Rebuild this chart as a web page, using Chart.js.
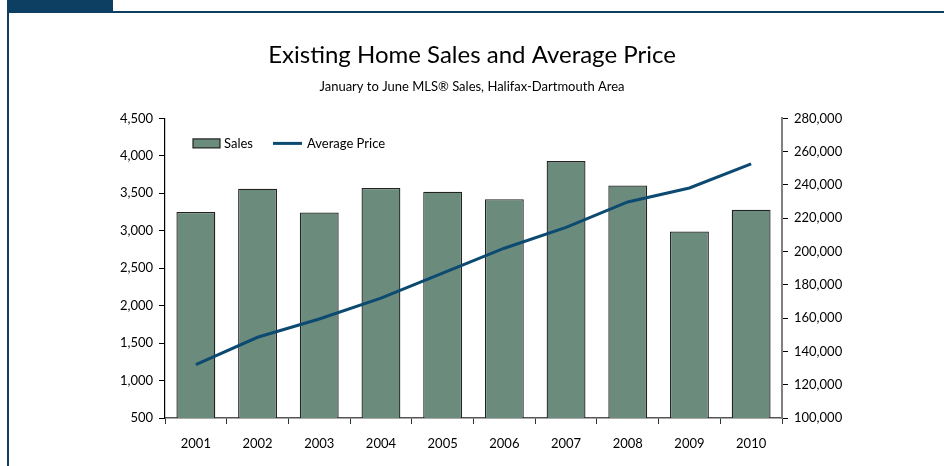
<!DOCTYPE html>
<html>
<head>
<meta charset="utf-8">
<script src="https://cdn.jsdelivr.net/npm/chart.js@4"></script>
<style>
  html, body { margin: 0; padding: 0; background: #fff; }
  #wrap { position: relative; width: 944px; height: 466px; overflow: hidden; }
  #tab { position: absolute; left: 7px; top: 0; width: 106px; height: 12px; background: #0d3f63; }
  #topline { position: absolute; left: 7px; top: 11px; right: 0; height: 2px; background: #0d3f63; }
  #leftline { position: absolute; left: 7px; top: 11px; bottom: 0; width: 2px; background: #0d3f63; }
  canvas { position: absolute; left: 0; top: 0; }
</style>
</head>
<body>
<div id="wrap">
  <div id="tab"></div>
  <div id="topline"></div>
  <div id="leftline"></div>
  <canvas id="grafico" width="944" height="466"></canvas>
</div>
<script>
// Datos
const anios = ['2001', '2002', '2003', '2004', '2005', '2006', '2007', '2008', '2009', '2010'];
const ventas = [3250, 3560, 3245, 3570, 3520, 3420, 3930, 3605, 2990, 3280];
const precioMedio = [132000, 148500, 159500, 172000, 187000, 202000, 214500, 229800, 238200, 252700];

const fuente = 'Lato, "Open Sans", sans-serif';
const formato = v => v.toLocaleString('en-US');

// Leyenda dentro del área del gráfico, arriba a la izquierda
const leyendaInterna = {
    id: 'leyendaInterna',
    afterDraw(chart) {
        const c = chart.ctx;
        const area = chart.chartArea;
        const barras = chart.data.datasets[1];
        const linea = chart.data.datasets[0];
        const y = area.top + 25;
        let x = area.left + 28;
        c.save();
        c.font = '13px ' + fuente;
        c.textBaseline = 'middle';
        c.fillStyle = barras.backgroundColor;
        c.fillRect(x, y - 4.5, 27, 9);
        c.strokeStyle = barras.borderColor;
        c.lineWidth = 1.2;
        c.strokeRect(x, y - 4.5, 27, 9);
        c.fillStyle = '#000';
        c.fillText(barras.label, x + 31, y);
        x = area.left + 108;
        c.strokeStyle = linea.borderColor;
        c.lineWidth = 3;
        c.beginPath();
        c.moveTo(x, y);
        c.lineTo(x + 29, y);
        c.stroke();
        c.fillStyle = '#000';
        c.fillText(linea.label, x + 34, y);
        c.restore();
    }
};

const ctx = document.getElementById('grafico').getContext('2d');
new Chart(ctx, {
    data: {
        labels: anios,
        datasets: [
            {
                type: 'line',
                label: 'Average Price',
                data: precioMedio,
                borderColor: '#0d4a72',
                backgroundColor: '#0d4a72',
                borderWidth: 3,
                pointRadius: 0,
                tension: 0,
                yAxisID: 'y1',
                order: 0
            },
            {
                type: 'bar',
                label: 'Sales',
                data: ventas,
                backgroundColor: '#6b8b7d',
                borderColor: '#222',
                borderWidth: 1.3,
                barPercentage: 0.63,
                categoryPercentage: 1,
                yAxisID: 'y',
                order: 1
            }
        ]
    },
    plugins: [leyendaInterna],
    options: {
        responsive: false,
        animation: false,
        layout: { padding: { left: 100, right: 100, top: 41, bottom: 0 } },
        plugins: {
            title: {
                display: true,
                text: 'Existing Home Sales and Average Price',
                color: '#000',
                font: { family: fuente, size: 24, weight: 'normal' },
                padding: { top: 0, bottom: 9 }
            },
            subtitle: {
                display: true,
                text: 'January to June MLS® Sales, Halifax-Dartmouth Area',
                color: '#000',
                font: { family: fuente, size: 13, weight: 'normal' },
                padding: { top: 0, bottom: 24 }
            },
            legend: { display: false },
            tooltip: { enabled: false }
        },
        scales: {
            x: {
                offset: true,
                grid: { offset: true, drawOnChartArea: false, tickLength: 6, color: '#333' },
                border: { color: '#555', width: 1.5 },
                ticks: { color: '#000', padding: 12, font: { family: fuente, size: 13 } },
                afterFit: s => { s.height = 48; }
            },
            y: {
                position: 'left',
                min: 500,
                max: 4500,
                ticks: { stepSize: 500, color: '#000', padding: 6, callback: formato, font: { family: fuente, size: 13 } },
                grid: { drawOnChartArea: false, tickLength: 6, color: '#000' },
                border: { color: '#000', width: 1.2 },
                afterFit: s => { s.width = 65; }
            },
            y1: {
                position: 'right',
                min: 100000,
                max: 280000,
                ticks: { stepSize: 20000, color: '#000', padding: 6, callback: formato, font: { family: fuente, size: 13 } },
                grid: { drawOnChartArea: false, tickLength: 6, color: '#000' },
                border: { color: '#808080', width: 2 },
                afterFit: s => { s.width = 62; }
            }
        }
    }
});
</script>
</body>
</html>
